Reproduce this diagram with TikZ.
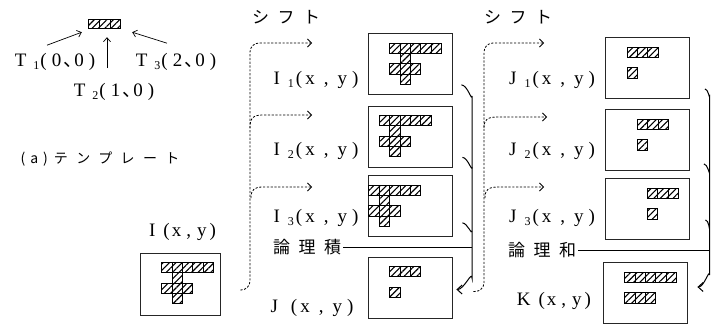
\documentclass[tikz,border=0pt]{standalone}
\usepackage{fontspec}
\newfontfamily\jp{Noto Sans CJK JP}
\newfontfamily\lt{Liberation Serif}
\usetikzlibrary{arrows.meta,calc,patterns.meta}

\newcommand{\Tshape}{0/0,1/0,2/0,3/0,4/0,1/1,0/2,1/2,2/2,1/3}
\newcommand{\Jshape}{0/0,1/0,2/0,0/2}
\newcommand{\Kshape}{0/0,1/0,2/0,3/0,4/0,0/2,1/2,2/2}
% cells of a picture: box, column shift, list
\newcommand{\hatchcells}[3]{%
  \foreach \c/\r in #3
    \draw[cell] ($(#1.north west)+({22+10.4*(\c+(#2))},{10+10.3*\r})$) rectangle ++(10.4,10.3);}
% wide set coordinates: name, subscript
\newcommand{\sub}[1]{\raisebox{-3pt}{\fontsize{12}{12}\selectfont #1}}
\newcommand{\xy}{(\hspace{3pt}x\hspace{9pt},\hspace{9pt}y\hspace{5pt})}
\newcommand{\xyt}{(\hspace{2pt}x\hspace{5pt},\hspace{6pt}y\hspace{3pt})}
\newcommand{\pname}[2]{#1\hspace{8pt}\sub{#2}\hspace{2pt}\xy}
\newcommand{\tname}[3]{T\hspace{7pt}\sub{#1}\hspace{1pt}(\hspace{5pt}#2\hspace{2pt}\makebox[9pt][l]{\jp 、}\hspace{2pt}#3\hspace{5pt})}

\tikzset{
  frame/.style={draw=black!85, line width=0.8pt, minimum width=84pt, minimum height=61pt, inner sep=0pt},
  cell/.style={draw=black, line width=0.9pt, pattern={Lines[angle=45,distance=4.5pt,line width=1.1pt]}},
  lbl/.style={font=\lt\fontsize{19}{19}\selectfont, inner sep=0pt},
  jlbl/.style={font=\jp\fontsize{17}{17}\selectfont\addfontfeature{LetterSpace=50}, inner sep=0pt},
  shiftline/.style={line width=0.8pt, dash pattern=on 2.2pt off 1.6pt, -{Straight Barb[length=4pt,width=8pt]}},
  joinline/.style={line width=1pt},
  tarrow/.style={line width=0.7pt, -{Straight Barb[length=4pt,width=7pt]}},
}

\begin{document}
\begin{tikzpicture}[x=1pt,y=-1pt]
\useasboundingbox (0,0) rectangle (711,324);

% (a) template
\node[minimum width=32pt, minimum height=9pt, inner sep=0pt] (tmpl) at (105,24.5) {};
\foreach \c in {0,1,2}
  \draw[cell] ($(tmpl.north west)+(10.67*\c,0)$) rectangle ++(10.67,9);
\node[lbl] (t1) at (55,62)  {\tname{1}{0}{0}};
\node[lbl] (t3) at (176,62) {\tname{3}{2}{0}};
\node[lbl] (t2) at (114,92) {\tname{2}{1}{0}};
\draw[tarrow] ($(t1.north)+(-8,-8)$)  -- ($(tmpl.south west)+(-7,3)$);
\draw[tarrow] ($(t2.north)+(-7,-15)$) -- ($(tmpl.south)+(2,8)$);
\draw[tarrow] ($(t3.north)+(-9,-10)$) -- ($(tmpl.south east)+(11,3)$);
\node[jlbl, font=\jp\fontsize{14}{14}\selectfont\addfontfeature{LetterSpace=60}] (cap) at (100,159) {(\hspace{5pt}a\hspace{5pt})\hspace{6pt}テンプレート};

% boxes
\node[frame, minimum width=80pt, minimum height=62pt] (I) at (180,284) {};
\node[frame] (I1) at (410,64)    {};
\node[frame] (I2) at (410,136.5) {};
\node[frame] (I3) at (410,206)   {};
\node[frame] (J)  at (410,287.5) {};
\node[frame] (J1) at (647.5,68)  {};
\node[frame] (J2) at (647.5,140) {};
\node[frame] (J3) at (647,209)   {};
\node[frame] (K)  at (645,293)   {};

\hatchcells{I}{0}{\Tshape}
\hatchcells{I1}{0}{\Tshape}
\hatchcells{I2}{-1}{\Tshape}
\hatchcells{I3}{-2}{\Tshape}
\hatchcells{J}{0}{\Jshape}
\hatchcells{J1}{0}{\Jshape}
\hatchcells{J2}{1}{\Jshape}
\hatchcells{J3}{2}{\Jshape}
\hatchcells{K}{0}{\Kshape}

% labels
\node[lbl] (il)  at (182.5,232) {I\hspace{8pt}\xyt};
\node[lbl] (i1l) at (316,80)  {\pname{I}{1}};
\node[lbl] (i2l) at (316,151) {\pname{I}{2}};
\node[lbl] (i3l) at (316,218) {\pname{I}{3}};
\node[lbl] (jl)  at (312,308) {J\hspace{13pt}\xy};
\node[lbl] (j1l) at (552,80)  {\pname{J}{1}};
\node[lbl] (j2l) at (552,151) {\pname{J}{2}};
\node[lbl] (j3l) at (552,218) {\pname{J}{3}};
\node[lbl] (kl)  at (554,301) {K\hspace{8pt}\xyt};
\node[jlbl] (sh1)  at (286,17)  {シフト};
\node[jlbl] (sh2)  at (518,17)  {シフト};
\node[jlbl] (seki) at (307,247) {論理積};
\node[jlbl] (wa)   at (542,250) {論理和};

% shifts (dotted)
\coordinate (Iout) at ($(I.east)+(20,6)$);
\coordinate (s1) at (312,43);
\coordinate (s2) at (312,115);
\coordinate (s3) at (312,187);
\draw[shiftline, rounded corners=9pt] (Iout) -- (250,290) -- (250,43) -- (s1);
\draw[shiftline] (250,128) .. controls (250,118) and (253,115) .. (263,115) -- (s2);
\draw[shiftline] (251,198) .. controls (251,190) and (254,187) .. (263,187) -- (s3);

\coordinate (Jout) at ($(J.east)+(21,4)$);
\coordinate (u1) at (544,43);
\coordinate (u2) at (547,117);
\coordinate (u3) at (544,187);
\draw[shiftline, rounded corners=9pt] (Jout) -- (484,291.5) -- (484,43) -- (u1);
\draw[shiftline] (484,128) .. controls (484,120) and (487,117) .. (497,117) -- (u2);
\draw[shiftline] (485,198) .. controls (485,190) and (488,187) .. (498,187) -- (u3);

% logical product
\coordinate (barL) at (472,0);
\draw[joinline, -{Straight Barb[length=5pt,width=9pt]}] ($(I1.south east)+(9,-10)$) to[out=0,in=-90] (472,96) -- (472,278) to[out=90,in=0] ($(J.east)+(4,2)$);
\draw[joinline] ($(I2.south east)+(10,-10)$) to[out=0,in=-90] (472,167);
\draw[joinline] ($(I3.south east)+(10,-14)$) to[out=0,in=-90] (472,231);
\draw[line width=0.7pt] ($(seki.east)+(2,0)$) -- (seki.east -| barL);

% logical sum
\coordinate (barR) at (709.5,0);
\draw[joinline, -{Straight Barb[length=5pt,width=9pt]}] ($(J1.south east)+(15,-10)$) to[out=0,in=-90] (709.5,96) -- (709.5,275) to[out=90,in=0] ($(K.east)+(10,-6)$);
\draw[joinline] ($(J2.south east)+(14,-7)$) to[out=0,in=-90] (709.5,172);
\draw[joinline] ($(J3.south east)+(16,-20)$) to[out=0,in=-90] (709.5,228);
\draw[line width=0.7pt] ($(wa.east)+(2,0)$) -- (wa.east -| barR);
\end{tikzpicture}
\end{document}
